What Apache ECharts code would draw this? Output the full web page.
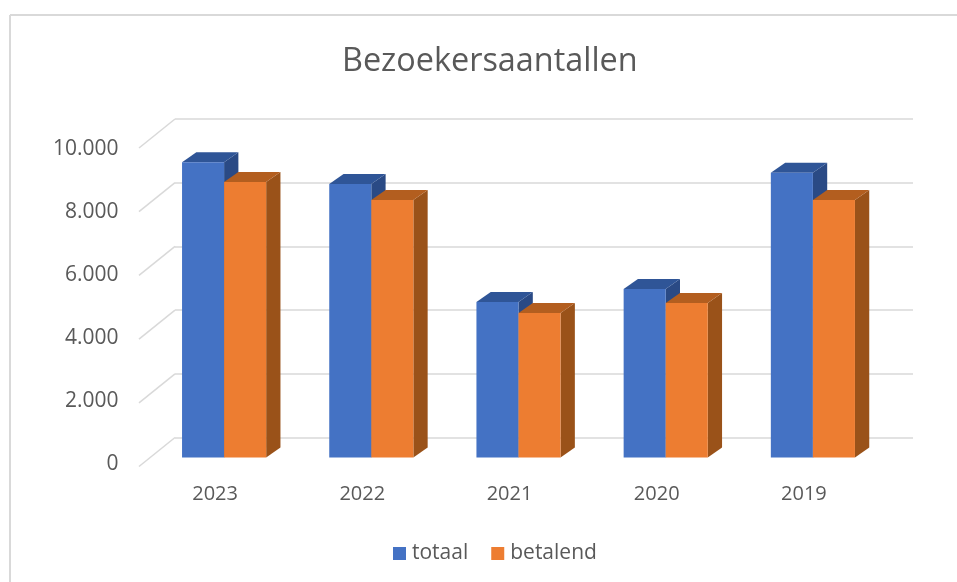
<!DOCTYPE html>
<html>
<head>
<meta charset="utf-8">
<title>Bezoekersaantallen</title>
<script src="https://cdn.jsdelivr.net/npm/echarts@6/dist/echarts.min.js"></script>
<style>
  html, body { margin: 0; padding: 0; background: #fff; }
  #chart { width: 957px; height: 582px; }
</style>
</head>
<body>
<div id="chart"></div>
<script>
const years = ['2023', '2022', '2021', '2020', '2019']
const totaal = [9270, 8590, 4880, 5290, 8940]
const betalend = [8650, 8085, 4540, 4850, 8085]
const yTicks = [0, 2000, 4000, 6000, 8000, 10000]
const yTickLabels = ['0', '2.000', '4.000', '6.000', '8.000', '10.000']

const textColor = '#595959'
const gridColor = '#d9d9d9'
const font = '"Open Sans", "Noto Sans", sans-serif'

// depth of the fake 3D: bars and the floor of the wall
const barDepth = [14.3, -10]
const wallDepth = [-36, 29]

// front, top, side
const blueFaces = ['#4472c4', '#2f5597', '#2a4a85']
const orangeFaces = ['#ed7d31', '#b35e1f', '#9a5219']

function bar3d(slot, faces) {
  return (params, api) => {
    const [cx, yTop] = api.coord([api.value(0), api.value(1)])
    const yBase = api.coord([api.value(0), 0])[1]
    const w = api.size([1, 0])[0] / 3.5 // gap width 150%
    const x0 = cx + (slot - 1) * w
    const x1 = x0 + w
    const [dx, dy] = barDepth
    return {
      type: 'group',
      children: [
        { type: 'polygon', shape: { points: [[x1, yTop], [x1 + dx, yTop + dy], [x1 + dx, yBase + dy], [x1, yBase]] }, style: { fill: faces[2] } },
        { type: 'polygon', shape: { points: [[x0, yTop], [x0 + dx, yTop + dy], [x1 + dx, yTop + dy], [x1, yTop]] }, style: { fill: faces[1] } },
        { type: 'rect', shape: { x: x0, y: yTop, width: w, height: yBase - yTop }, style: { fill: faces[0] } },
      ],
    }
  }
}

function wallEdge(params, api) {
  const [x, y] = api.coord([0, api.value(0)])
  return {
    type: 'line',
    shape: { x1: x, y1: y, x2: x + wallDepth[0], y2: y + wallDepth[1] },
    style: { stroke: gridColor, lineWidth: 1.5 },
  }
}

const hiddenAxis = { show: false }
const chart = echarts.init(document.getElementById('chart'))

chart.setOption({
  animation: false,
  backgroundColor: '#fff',
  title: {
    text: 'Bezoekersaantallen',
    left: 337,
    top: 41,
    textStyle: { color: textColor, fontFamily: font, fontSize: 32.4, fontWeight: 'normal' },
  },
  legend: {
    data: ['totaal', 'betalend'],
    left: 388,
    top: 538,
    icon: 'rect',
    itemWidth: 13,
    itemHeight: 13,
    itemGap: 23,
    selectedMode: false,
    textStyle: { color: textColor, fontFamily: font, fontSize: 21, padding: [0, 0, 0, 1] },
  },
  graphic: [
    { type: 'line', shape: { x1: 10, y1: 15, x2: 957, y2: 15 }, style: { stroke: gridColor, lineWidth: 2 } },
    { type: 'line', shape: { x1: 10, y1: 15, x2: 10, y2: 582 }, style: { stroke: gridColor, lineWidth: 2 } },
  ],
  grid: [
    // back wall
    { left: 175, top: 119, width: 738, height: 318.5 },
    // plane of the axis labels
    { left: 141.5, top: 149, width: 736, height: 315 },
    // plane of the bars
    { left: 150.5, top: 139, width: 736, height: 318.5 },
  ],
  xAxis: [
    { gridIndex: 0, type: 'value', min: 0, max: 1, ...hiddenAxis },
    {
      gridIndex: 1,
      type: 'category',
      data: years,
      axisLine: { show: false },
      axisTick: { show: false },
      axisLabel: { color: textColor, fontFamily: font, fontSize: 20, margin: 20 },
    },
    { gridIndex: 2, type: 'category', data: years, ...hiddenAxis },
  ],
  yAxis: [
    {
      gridIndex: 0,
      type: 'value',
      min: 0,
      max: 10000,
      interval: 2000,
      axisLine: { show: false },
      axisTick: { show: false },
      axisLabel: { show: false },
      splitLine: { show: true, lineStyle: { color: gridColor, width: 1.5 } },
    },
    {
      gridIndex: 1,
      type: 'value',
      min: 0,
      max: 10000,
      interval: 2000,
      axisLine: { show: false },
      axisTick: { show: false },
      splitLine: { show: false },
      axisLabel: {
        color: textColor,
        fontFamily: font,
        fontSize: 21,
        margin: 23,
        formatter: v => yTickLabels[yTicks.indexOf(v)],
      },
    },
    { gridIndex: 2, type: 'value', min: 0, max: 10000, ...hiddenAxis },
  ],
  series: [
    {
      type: 'custom',
      name: 'wand',
      xAxisIndex: 0,
      yAxisIndex: 0,
      silent: true,
      data: yTicks.map(v => [v]),
      encode: { y: 0 },
      renderItem: wallEdge,
    },
    {
      type: 'custom',
      name: 'totaal',
      xAxisIndex: 2,
      yAxisIndex: 2,
      itemStyle: { color: blueFaces[0] },
      data: years.map((y, i) => [y, totaal[i]]),
      encode: { x: 0, y: 1 },
      renderItem: bar3d(0, blueFaces),
    },
    {
      type: 'custom',
      name: 'betalend',
      xAxisIndex: 2,
      yAxisIndex: 2,
      itemStyle: { color: orangeFaces[0] },
      data: years.map((y, i) => [y, betalend[i]]),
      encode: { x: 0, y: 1 },
      renderItem: bar3d(1, orangeFaces),
    },
  ],
})
</script>
</body>
</html>
